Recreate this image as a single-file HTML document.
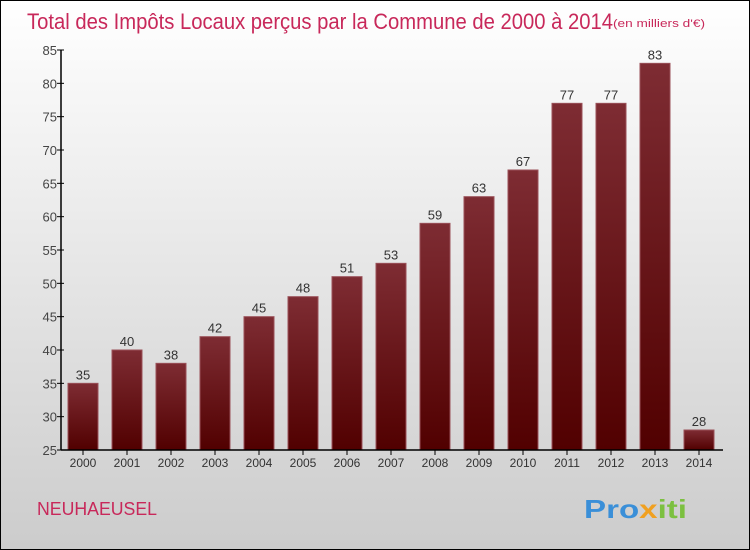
<!DOCTYPE html>
<html><head><meta charset="utf-8"><style>
body{margin:0}
#c{width:750px;height:550px;position:relative;box-sizing:border-box;border:1px solid #000;background:linear-gradient(#fff,#ccc);font-family:"Liberation Sans",sans-serif;overflow:hidden}
</style></head><body>
<div id="c">
<svg width="748" height="548">
<defs><linearGradient id="g" x1="0" y1="0" x2="0" y2="1"><stop offset="0" stop-color="#7e2c33"/><stop offset="1" stop-color="#510000"/></linearGradient></defs>
<text x="26" y="28" font-size="22" fill="#c8285a" textLength="586" lengthAdjust="spacingAndGlyphs">Total des Impôts Locaux perçus par la Commune de 2000 à 2014</text>
<text x="612" y="26" font-size="11" fill="#c8285a" textLength="92" lengthAdjust="spacingAndGlyphs">(en milliers d'€)</text>
<text x="36" y="514" font-size="18" fill="#c8285a" textLength="120" lengthAdjust="spacingAndGlyphs">NEUHAEUSEL</text>
<text x="583" y="517" font-size="26" font-weight="bold" fill="#3a8fd8" textLength="103" lengthAdjust="spacingAndGlyphs">Pro<tspan fill="#f0a020">x</tspan><tspan fill="#7cc040">iti</tspan></text>
<g id="plot"></g>
</svg></div>
<script>
const years=["2000","2001","2002","2003","2004","2005","2006","2007","2008","2009","2010","2011","2012","2013","2014"];
const values=[35,40,38,42,45,48,51,53,59,63,67,77,77,83,28];
const yTicks=[25,30,35,40,45,50,55,60,65,70,75,80,85];
const ns="http://www.w3.org/2000/svg",g=document.getElementById('plot');
const y=v=>449-(v-25)*400/60, x=i=>82+i*44;
function el(t,a,txt){const e=document.createElementNS(ns,t);for(const k in a)e.setAttribute(k,a[k]);if(txt!=null)e.textContent=txt;g.appendChild(e);return e;}
yTicks.forEach(t=>{
 const l=el('line',{x1:56,x2:63,y1:y(t),y2:y(t),stroke:'#000'});
 
 const tx=el('text',{x:56,y:y(t)+5,'text-anchor':'end','font-size':13,fill:'#444'},t);
 
});
values.forEach((v,i)=>{
 const r=el('rect',{x:x(i)-15,y:y(v),width:30,height:y(25)-y(v),fill:'url(#g)',stroke:'#9a5058','stroke-width':1});
 
 const t=el('text',{x:x(i),y:y(v)-4,'text-anchor':'middle','font-size':13,fill:'#333'},v);
 
 const tk=el('line',{x1:x(i),x2:x(i),y1:449,y2:454,stroke:'#000'});
 
 const xl=el('text',{x:x(i),y:466,'text-anchor':'middle','font-size':12,fill:'#333'},years[i]);
 
});
const ya=el('line',{x1:60,x2:60,y1:y(85),y2:449,stroke:'#000','stroke-width':1.5});

const xa=el('line',{x1:60,x2:722,y1:449,y2:449,stroke:'#000','stroke-width':1.5});

</script>
</body></html>
